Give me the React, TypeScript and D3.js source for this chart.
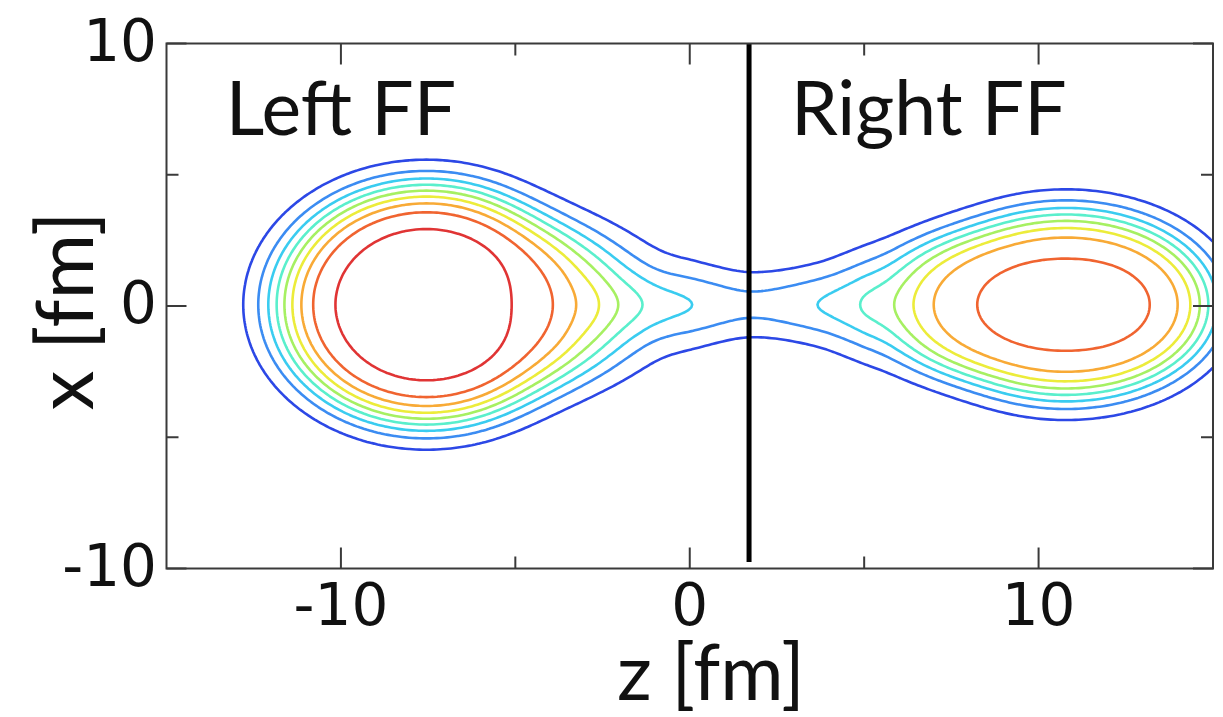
import React, { useMemo } from "react";
import * as d3 from "d3";

const W = 1223;
const H = 717;

// Axis ticks (fm)
const zMajorTicks = [-10, 0, 10];
const zMinorTicks = [-5, 5];
const xMajorTicks = [-10, 0, 10];
const xMinorTicks = [-5, 5];

// Contour levels of the density and their colours (jet-like)
const levels = [1, 2, 3, 4, 5, 6, 7, 8, 9];
const levelColors = [
  "#2c48e6",
  "#3b8cf2",
  "#3accf0",
  "#5aefcc",
  "#a6f062",
  "#ecec3a",
  "#f8aa36",
  "#f06430",
  "#e03434",
];

// Fission fragments: centre on the z axis, half-axes, surface diffuseness, central density
const fragCenterZ = [-7.6, 10.73];
const fragRadiusZ = [4.125, 4.05];
const fragRadiusX = [4.4, 3.4];
const fragDiffuseness = [0.525, 0.5];
const fragDensity = [9.5, 8.3];
// Elongation of each fragment towards the neck (+z for the left one, -z for the right one)
const fragNeckDir = [1, -1];
const fragNeckRadius = [1.125, 1.05];
const fragNeckDiffuseness = [0.445, 0.28];
const fragNeckSharpness = 6;

// Neck between the fragments: extra density on the axis and its transverse width
const neckZ = [-3.6, -2.65, -2.1, -1.4, 0, 1.7, 3.6, 4.84, 5.81, 6.6];
const neckHeight = [0, 0.52, 0.86, 1.4, 2.23, 2.1, 2.4, 1.79, 0.37, 0];
const neckWidthZ = [-3.5, -1.4, 0, 1.7, 3.6, 4.84, 6.2];
const neckWidth = [0.95, 0.92, 1.0, 0.92, 1.0, 1.15, 1.2];

// Scission line position
const scissionZ = 1.7;
const scissionX = [-9.75, 10];

// Fragment labels
const fragLabels = [
  { text: "Left FF", z: -13.3 },
  { text: "Right FF", z: 2.9 },
];

// Smooth cubic Hermite profile through nodes
function hermite(xsN: number[], ysN: number[]) {
  const n = xsN.length;
  const m = xsN.map((_, i) => {
    if (i === 0 || i === n - 1) return 0;
    return (ysN[i + 1] - ysN[i - 1]) / (xsN[i + 1] - xsN[i - 1]);
  });
  return (t: number) => {
    if (t <= xsN[0]) return ysN[0];
    if (t >= xsN[n - 1]) return ysN[n - 1];
    const i = Math.min(n - 2, d3.bisectRight(xsN, t) - 1);
    const h = xsN[i + 1] - xsN[i];
    const u = (t - xsN[i]) / h;
    const u2 = u * u;
    const u3 = u2 * u;
    return (
      (2 * u3 - 3 * u2 + 1) * ysN[i] +
      (u3 - 2 * u2 + u) * h * m[i] +
      (-2 * u3 + 3 * u2) * ysN[i + 1] +
      (u3 - u2) * h * m[i + 1]
    );
  };
}

const neckH = hermite(neckZ, neckHeight);
const neckS = hermite(neckWidthZ, neckWidth);

function fragmentAt(k: number, z: number, x: number) {
  const dz = z - fragCenterZ[k];
  const r = Math.hypot(dz, x);
  let R = fragRadiusZ[k];
  let a = fragDiffuseness[k];
  if (r > 1e-9) {
    const c = dz / r;
    const s = x / r;
    R = 1 / Math.sqrt((c * c) / fragRadiusZ[k] ** 2 + (s * s) / fragRadiusX[k] ** 2);
    const w = Math.pow(Math.max(0, c * fragNeckDir[k]), fragNeckSharpness);
    R += fragNeckRadius[k] * w;
    a += fragNeckDiffuseness[k] * w;
  } else {
    R += fragNeckRadius[k];
  }
  return fragDensity[k] / (1 + Math.exp((r - R) / a));
}

function densityAt(z: number, x: number) {
  let v = fragmentAt(0, z, x) + fragmentAt(1, z, x);
  const h = Math.max(0, neckH(z));
  const s = neckS(z);
  v += h * Math.exp(-(x * x) / (2 * s * s));
  return v;
}

export default function App() {
  const margin = { left: 166.5, right: 1213, top: 43.5, bottom: 568.5 };
  const zs = d3.scaleLinear().domain([-15, 15]).range([margin.left, margin.right]);
  const xs = d3.scaleLinear().domain([-10, 10]).range([margin.bottom, margin.top]);

  const contourPaths = useMemo(() => {
    const step = 0.1;
    const z0 = -16.5;
    const x0 = -10.5;
    const nz = Math.round(33 / step) + 1;
    const nx = Math.round(21 / step) + 1;
    const values = new Array(nz * nx);
    for (let j = 0; j < nx; j++) {
      const x = x0 + j * step;
      for (let i = 0; i < nz; i++) {
        values[j * nz + i] = densityAt(z0 + i * step, x);
      }
    }
    const gen = d3.contours().size([nz, nx]).thresholds(levels);
    const proj = d3.geoTransform({
      point(px: number, py: number) {
        (this as any).stream.point(zs(z0 + px * step), xs(x0 + py * step));
      },
    });
    const path = d3.geoPath(proj);
    return gen(values).map((c, i) => ({ d: path(c) || "", color: levelColors[i] }));
  }, []);

  const frameColor = "#3a3a3a";
  const tickFont = "'DejaVu Sans', sans-serif";
  const labelFont = "Lato, 'Open Sans', sans-serif";

  return (
    <svg
      width={W}
      height={H}
      viewBox={`0 0 ${W} ${H}`}
      style={{ position: "absolute", left: 0, top: 0, background: "#fff" }}
    >
      <defs>
        <clipPath id="plot-area">
          <rect x={margin.left} y={margin.top} width={margin.right - margin.left} height={margin.bottom - margin.top} />
        </clipPath>
      </defs>

      <g clipPath="url(#plot-area)">
        {contourPaths.map((c, i) => (
          <path key={i} d={c.d} fill="none" stroke={c.color} strokeWidth={2.6} strokeLinejoin="round" />
        ))}
      </g>

      {/* scission line */}
      <line
        x1={zs(scissionZ)}
        x2={zs(scissionZ)}
        y1={xs(scissionX[1])}
        y2={xs(scissionX[0])}
        stroke="#000"
        strokeWidth={5}
      />

      {/* frame */}
      <rect
        x={margin.left}
        y={margin.top}
        width={margin.right - margin.left}
        height={margin.bottom - margin.top}
        fill="none"
        stroke={frameColor}
        strokeWidth={2}
      />

      {/* z ticks, bottom and top */}
      {zMajorTicks.map((t) => (
        <g key={`zM${t}`} stroke={frameColor} strokeWidth={2}>
          <line x1={zs(t)} x2={zs(t)} y1={margin.bottom} y2={margin.bottom - 21} />
          <line x1={zs(t)} x2={zs(t)} y1={margin.top} y2={margin.top + 21} />
        </g>
      ))}
      {zMinorTicks.map((t) => (
        <g key={`zm${t}`} stroke={frameColor} strokeWidth={2}>
          <line x1={zs(t)} x2={zs(t)} y1={margin.bottom} y2={margin.bottom - 12} />
          <line x1={zs(t)} x2={zs(t)} y1={margin.top} y2={margin.top + 12} />
        </g>
      ))}

      {/* x ticks, left and right */}
      {xMajorTicks.map((t) => (
        <g key={`xM${t}`} stroke={frameColor} strokeWidth={2}>
          <line x1={margin.left} x2={margin.left + 20} y1={xs(t)} y2={xs(t)} />
          <line x1={margin.right} x2={margin.right - 20} y1={xs(t)} y2={xs(t)} />
        </g>
      ))}
      {xMinorTicks.map((t) => (
        <g key={`xm${t}`} stroke={frameColor} strokeWidth={2}>
          <line x1={margin.left} x2={margin.left + 12} y1={xs(t)} y2={xs(t)} />
          <line x1={margin.right} x2={margin.right - 12} y1={xs(t)} y2={xs(t)} />
        </g>
      ))}

      {/* tick labels */}
      {zMajorTicks.map((t) => (
        <text key={`zl${t}`} x={zs(t)} y={625} textAnchor="middle" fontFamily={tickFont} fontSize={58} fill="#111">
          {String(t)}
        </text>
      ))}
      {xMajorTicks.map((t) => (
        <text key={`xl${t}`} x={157} y={xs(t) + 17} textAnchor="end" fontFamily={tickFont} fontSize={58} fill="#111">
          {String(t)}
        </text>
      ))}

      {/* axis titles */}
      <text x={711} y={700} textAnchor="middle" fontFamily={labelFont} fontSize={77} fill="#111">
        z [fm]
      </text>
      <text
        transform={`translate(93, 311) rotate(-90)`}
        textAnchor="middle"
        fontFamily={labelFont}
        fontSize={80}
        fill="#111"
      >
        x [fm]
      </text>

      {/* fragment labels */}
      {fragLabels.map((l) => (
        <text key={l.text} x={zs(l.z)} y={135} fontFamily={labelFont} fontSize={75} fill="#111">
          {l.text}
        </text>
      ))}
    </svg>
  );
}
